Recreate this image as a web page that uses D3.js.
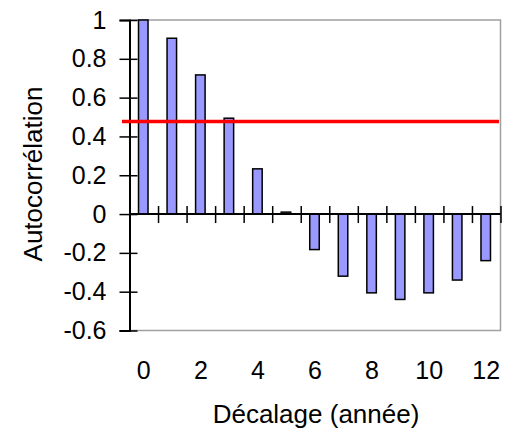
<!DOCTYPE html>
<html><head><meta charset="utf-8">
<script src="https://cdn.jsdelivr.net/npm/d3@7"></script>
<style>body{margin:0;background:#fff}svg{display:block}</style>
</head><body>
<script>
const lags = [0,1,2,3,4,5,6,7,8,9,10,11,12];
const acf = [1, 0.906, 0.717, 0.494, 0.233, 0.01, -0.183, -0.32, -0.406, -0.44, -0.406, -0.34, -0.24];
const threshold = 0.477;
const yTicks = [1,0.8,0.6,0.4,0.2,0,-0.2,-0.4,-0.6];
const xTickLabels = [0,2,4,6,8,10,12];
const yTitle = "Autocorrélation";
const xTitle = "Décalage (année)";

const W=511,H=432;
const L=129.5,R=500.5,T=20,B=330.5;
const svg=d3.select("body").append("svg").attr("width",W).attr("height",H);
const x=d3.scaleBand().domain(lags).range([L,R]).paddingInner(0).paddingOuter(0);
const y=d3.scaleLinear().domain([-0.6,1]).range([B,T]);
const font="Liberation Sans, Arial, sans-serif";
const fs=25, tfs=26;

svg.append("path").attr("d",`M${L},${T}H${R}V${B}H${L}`).attr("fill","none").attr("stroke","#a0a0a0").attr("stroke-width",1.5);

const bw=x.bandwidth()/3;
svg.selectAll("rect.bar").data(lags).join("rect")
 .attr("x",d=>x(d)+x.bandwidth()/2-bw/2-0.5)
 .attr("width",bw)
 .attr("y",(d,i)=>Math.min(y(acf[i]),y(0)))
 .attr("height",(d,i)=>Math.abs(y(acf[i])-y(0)))
 .attr("fill","#9999ff").attr("stroke","#000").attr("stroke-width",1.5);

const ya=svg.append("g").attr("transform",`translate(${L},0)`)
 .call(d3.axisLeft(y).tickValues(yTicks).tickSize(10).tickPadding(13).tickFormat(d=>String(d)));
ya.select(".domain").attr("stroke","#000").attr("stroke-width",2);
ya.selectAll(".tick line").attr("stroke","#000").attr("stroke-width",1.5).attr("x2",-10).attr("x1",8);
ya.selectAll(".tick text").attr("font-family",font).attr("font-size",fs).attr("fill","#000");

const za=svg.append("g").attr("transform",`translate(0,${y(0)})`)
 .call(d3.axisBottom(d3.scaleLinear().domain([0,13]).range([L,R])).tickValues(d3.range(0,14)).tickSize(9).tickFormat(""));
za.select(".domain").attr("stroke","#000").attr("stroke-width",2).attr("d",`M${L},0H${R}`);
za.selectAll(".tick line").attr("stroke","#000").attr("stroke-width",1.5).attr("y1",-8).attr("y2",9);

svg.selectAll("text.xl").data(xTickLabels).join("text")
 .attr("x",d=>x(d)+x.bandwidth()/2).attr("y",379)
 .attr("text-anchor","middle").attr("font-family",font).attr("font-size",fs).text(d=>d);

svg.append("line").attr("x1",122).attr("x2",499).attr("y1",y(threshold)).attr("y2",y(threshold))
 .attr("stroke","#ff0000").attr("stroke-width",3.3);

svg.append("text").attr("x",316).attr("y",423).attr("text-anchor","middle")
 .attr("font-family",font).attr("font-size",tfs).text(xTitle);
svg.append("text").attr("transform","translate(42,174) rotate(-90)").attr("text-anchor","middle")
 .attr("font-family",font).attr("font-size",tfs).text(yTitle);
</script>
</body></html>
